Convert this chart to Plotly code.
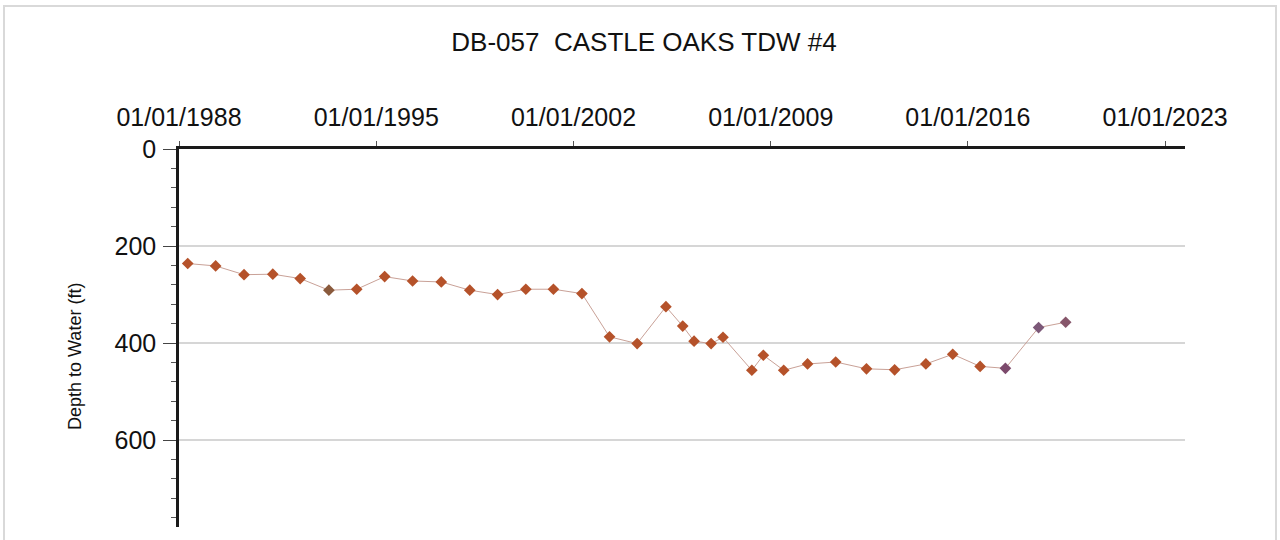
import plotly.graph_objects as go

# ---- data ----
dates = [
    "1988-04-23", "1989-04-20", "1990-04-23", "1991-05-01", "1992-04-20",
    "1993-04-27", "1994-04-23", "1995-04-20", "1996-04-16", "1997-04-23",
    "1998-04-27", "1999-04-23", "2000-04-23", "2001-04-16", "2002-04-20",
    "2003-04-13", "2004-04-05", "2005-04-13", "2005-11-17", "2006-04-13",
    "2006-11-20", "2007-04-23", "2008-05-01", "2008-09-27", "2009-06-18",
    "2010-04-23", "2011-04-23", "2012-05-26", "2013-05-26", "2014-07-05",
    "2015-06-18", "2016-06-07", "2017-05-01", "2018-07-05", "2019-06-21",
]
depth_ft = [
    236, 241, 259, 258, 267,
    291, 289, 263, 272, 274,
    291, 300, 289, 289, 298,
    387, 401, 325, 365, 396,
    401, 388, 456, 425, 456,
    443, 439, 453, 455, 443,
    423, 448, 452, 368, 357,
]
y_ticks = [0, 200, 400, 600]
title_text = "DB-057\u00a0 CASTLE OAKS TDW #4"
y_title = "Depth to Water (ft)"

# ---- styles ----
base_col = "#b5522a"
marker_colors = [base_col] * len(dates)
marker_colors[5] = "#8a5a3c"
marker_colors[32] = "#7c4a6c"
marker_colors[33] = "#7c5878"
marker_colors[34] = "#86566a"

FONT = "Liberation Sans, Arial, sans-serif"

fig = go.Figure()
fig.add_trace(go.Scatter(
    x=dates, y=depth_ft, mode="lines+markers",
    line=dict(color="#c9a197", width=1),
    marker=dict(symbol="diamond", size=9, color=marker_colors,
                line=dict(width=0)),
    showlegend=False, hoverinfo="x+y",
))

fig.update_layout(
    width=1280, height=540,
    margin=dict(l=179, r=95, t=149, b=13, pad=0),
    paper_bgcolor="white", plot_bgcolor="white",
    font=dict(family=FONT, color="#111"),
    title=dict(text=title_text, x=644 / 1280, xref="container", xanchor="center",
               y=1 - 42 / 540, yref="container", yanchor="middle",
               font=dict(size=26, family=FONT, color="#111")),
    xaxis=dict(
        side="top", type="date",
        range=["1988-01-01", "2023-09-15"],
        tick0="1988-01-01", dtick="M84", tickformat="%m/%d/%Y",
        showgrid=False, zeroline=False,
        showline=True, linecolor="#1a1a1a", linewidth=2.5,
        ticks="outside", ticklen=5, tickwidth=1, tickcolor="#555",
        tickfont=dict(size=25, family=FONT, color="#111"),
        ticklabelstandoff=5,
    ),
    yaxis=dict(
        range=[779, 0],
        tickvals=y_ticks,
        showgrid=True, gridcolor="#d6d6d6", gridwidth=2,
        zeroline=False,
        showline=True, linecolor="#1a1a1a", linewidth=2.5,
        ticks="outside", ticklen=13, tickwidth=1, tickcolor="#444",
        tickfont=dict(size=25, family=FONT, color="#111"),
        minor=dict(dtick=40, ticks="outside", ticklen=5, tickwidth=1,
                   tickcolor="#555", showgrid=False),
        ticklabelstandoff=2,
    ),
    annotations=[dict(
        text=y_title, textangle=-90, xref="paper", yref="paper",
        x=(75 - 179) / 1006, y=1 - (357 - 149) / 378,
        xanchor="center", yanchor="middle", showarrow=False,
        font=dict(size=18, family=FONT, color="#111"),
    )],
    shapes=[dict(
        type="rect", xref="paper", yref="paper",
        x0=(4 - 179) / 1006, x1=(1276 - 179) / 1006,
        y0=1 - (560 - 149) / 378, y1=1 - (6 - 149) / 378,
        line=dict(color="#d9d9d9", width=2), fillcolor="rgba(0,0,0,0)",
        layer="below",
    )],
)

fig.write_html("out.html", config={"displayModeBar": False},
               post_script="document.body.style.margin='0';document.body.style.overflow='hidden';")
